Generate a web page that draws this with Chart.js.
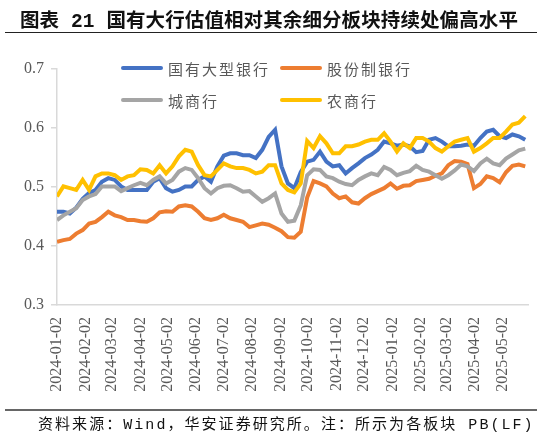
<!DOCTYPE html>
<html>
<head>
<meta charset="utf-8">
<script src="https://cdn.jsdelivr.net/npm/chart.js@4/dist/chart.umd.min.js"></script>
<style>
  body { margin: 0; width: 542px; height: 437px; position: relative; background: #fff; overflow: hidden; }
  #box { position: absolute; left: 0; top: 0; width: 542px; height: 437px; }
  #title { position: absolute; left: 20px; top: 4px; font-size: 19.5px; font-weight: bold; color: #111;
           font-family: "Liberation Mono", "Noto Sans CJK SC", sans-serif; white-space: nowrap; letter-spacing: 0.1px; }
  #topline { position: absolute; left: 5px; top: 32px; width: 532px; border-top: 1.5px solid #222; }
  #botline { position: absolute; left: 5px; top: 409px; width: 532px; border-top: 2px solid #666; }
  #note { position: absolute; left: 38px; top: 412px; font-size: 15px; color: #111;
          font-family: "Liberation Mono", "Noto Sans CJK SC", sans-serif; white-space: nowrap; letter-spacing: 2.05px; }
  .leg { position: absolute; height: 20px; display: flex; align-items: center; font-size: 15px; color: #595959;
         font-family: "Noto Sans CJK SC", sans-serif; letter-spacing: 2px; white-space: nowrap; }
  .leg i { display: inline-block; width: 42px; height: 4px; border-radius: 2px; margin-right: 5px; }
</style>
</head>
<body>
<div id="box"><canvas id="myChart" width="542" height="437"></canvas></div>
<div id="title">图表 21 国有大行估值相对其余细分板块持续处偏高水平</div>
<div id="topline"></div>
<div id="legend"></div>
<div id="botline"></div>
<div id="note">资料来源：Wind，华安证券研究所。注：所示为各板块 PB(LF)</div>
<script>
// axis tick labels (monthly)
const tickLabels = ['2024-01-02', '2024-02-02', '2024-03-02', '2024-04-02', '2024-05-02', '2024-06-02',
  '2024-07-02', '2024-08-02', '2024-09-02', '2024-10-02', '2024-11-02', '2024-12-02',
  '2025-01-02', '2025-02-02', '2025-03-02', '2025-04-02', '2025-05-02'];

// weekly samples
const dates = [
  '2024-01-02', '2024-01-09', '2024-01-16', '2024-01-23', '2024-01-30',
  '2024-02-06', '2024-02-13', '2024-02-20', '2024-02-27',
  '2024-03-05', '2024-03-12', '2024-03-19', '2024-03-26',
  '2024-04-02', '2024-04-09', '2024-04-16', '2024-04-23', '2024-04-30',
  '2024-05-07', '2024-05-14', '2024-05-21', '2024-05-28',
  '2024-06-04', '2024-06-11', '2024-06-18', '2024-06-25',
  '2024-07-02', '2024-07-09', '2024-07-16', '2024-07-23', '2024-07-30',
  '2024-08-06', '2024-08-13', '2024-08-20', '2024-08-27',
  '2024-09-03', '2024-09-10', '2024-09-17', '2024-09-24',
  '2024-10-01', '2024-10-08', '2024-10-15', '2024-10-22', '2024-10-29',
  '2024-11-05', '2024-11-12', '2024-11-19', '2024-11-26',
  '2024-12-03', '2024-12-10', '2024-12-17', '2024-12-24', '2024-12-31',
  '2025-01-07', '2025-01-14', '2025-01-21', '2025-01-28',
  '2025-02-04', '2025-02-11', '2025-02-18', '2025-02-25',
  '2025-03-04', '2025-03-11', '2025-03-18', '2025-03-25',
  '2025-04-01', '2025-04-08', '2025-04-15', '2025-04-22', '2025-04-29',
  '2025-05-06', '2025-05-13', '2025-05-20', '2025-05-27'];

const bigBanks = [0.458, 0.458, 0.455, 0.465, 0.480, 0.490, 0.495, 0.509, 0.515, 0.512, 0.501, 0.495, 0.495,
  0.495, 0.495, 0.509, 0.515, 0.498, 0.492, 0.495, 0.501, 0.501, 0.512, 0.518, 0.509, 0.535,
  0.553, 0.557, 0.557, 0.554, 0.554, 0.549, 0.563, 0.585, 0.597, 0.535, 0.506, 0.498, 0.525,
  0.543, 0.546, 0.560, 0.543, 0.535, 0.537, 0.523, 0.532, 0.540, 0.549, 0.555, 0.563, 0.577, 0.574,
  0.570, 0.572, 0.569, 0.559, 0.561, 0.580, 0.583, 0.577, 0.569, 0.569, 0.570, 0.572,
  0.570, 0.583, 0.594, 0.597, 0.586, 0.583, 0.589, 0.586, 0.580];

const jointStock = [0.407, 0.410, 0.412, 0.421, 0.427, 0.438, 0.441, 0.449, 0.458, 0.452, 0.449, 0.444, 0.444,
  0.442, 0.441, 0.447, 0.457, 0.459, 0.458, 0.467, 0.469, 0.467, 0.458, 0.447, 0.444, 0.447,
  0.453, 0.447, 0.444, 0.441, 0.432, 0.435, 0.438, 0.436, 0.431, 0.425, 0.415, 0.414, 0.424,
  0.482, 0.510, 0.506, 0.501, 0.489, 0.481, 0.484, 0.474, 0.472, 0.481, 0.488, 0.493, 0.498, 0.506,
  0.497, 0.502, 0.503, 0.510, 0.512, 0.514, 0.519, 0.523, 0.537, 0.544, 0.543, 0.539,
  0.498, 0.505, 0.518, 0.515, 0.508, 0.525, 0.536, 0.538, 0.535];

const cityBanks = [0.444, 0.452, 0.458, 0.464, 0.478, 0.484, 0.488, 0.501, 0.501, 0.501, 0.493, 0.498, 0.503,
  0.507, 0.503, 0.512, 0.518, 0.506, 0.512, 0.526, 0.532, 0.529, 0.515, 0.498, 0.489, 0.498,
  0.502, 0.503, 0.498, 0.492, 0.493, 0.484, 0.475, 0.481, 0.489, 0.455, 0.441, 0.443, 0.469,
  0.520, 0.530, 0.529, 0.518, 0.515, 0.509, 0.505, 0.503, 0.512, 0.518, 0.523, 0.520, 0.534, 0.529,
  0.520, 0.524, 0.527, 0.536, 0.529, 0.526, 0.520, 0.514, 0.520, 0.528, 0.538, 0.535,
  0.527, 0.540, 0.548, 0.540, 0.537, 0.548, 0.555, 0.562, 0.565];

const ruralBanks = [0.484, 0.501, 0.498, 0.495, 0.512, 0.495, 0.518, 0.523, 0.523, 0.520, 0.512, 0.518, 0.520,
  0.530, 0.529, 0.523, 0.537, 0.523, 0.535, 0.552, 0.563, 0.560, 0.537, 0.520, 0.518, 0.529,
  0.540, 0.535, 0.532, 0.532, 0.529, 0.523, 0.526, 0.537, 0.537, 0.506, 0.495, 0.491, 0.506,
  0.578, 0.566, 0.586, 0.574, 0.557, 0.557, 0.569, 0.569, 0.572, 0.577, 0.580, 0.580, 0.591, 0.577,
  0.560, 0.574, 0.566, 0.583, 0.583, 0.577, 0.566, 0.560, 0.569, 0.577, 0.580, 0.583,
  0.560, 0.566, 0.574, 0.583, 0.583, 0.594, 0.606, 0.609, 0.620];

const seriesNames = ['国有大型银行', '股份制银行', '城商行', '农商行'];
const seriesColors = ['#4472C4', '#ED7D31', '#A5A5A5', '#FFC000'];
const seriesValues = [bigBanks, jointStock, cityBanks, ruralBanks];

const t0 = Date.parse('2024-01-02');
const dayOf = s => (Date.parse(s) - t0) / 86400000;

const xy = '#595959';
const gridc = '#d9d9d9';
const numFont = { family: 'Liberation Serif', size: 16 };

// legend, two columns
const legendPos = [[121, 58], [280, 58], [121, 90], [280, 90]];
const legend = document.getElementById('legend');
seriesNames.forEach((name, i) => {
  const d = document.createElement('div');
  d.className = 'leg';
  d.style.left = legendPos[i][0] + 'px';
  d.style.top = legendPos[i][1] + 'px';
  d.innerHTML = '<i style="background:' + seriesColors[i] + '"></i>' + name;
  legend.appendChild(d);
});

const ctx = document.getElementById('myChart');
new Chart(ctx, {
  type: 'line',
  data: {
    datasets: seriesNames.map((name, i) => ({
      label: name,
      data: dates.map((d, j) => ({ x: dayOf(d), y: seriesValues[i][j] })),
      borderColor: seriesColors[i],
      backgroundColor: seriesColors[i],
      borderWidth: 4,
      pointRadius: 0,
      tension: 0,
      order: 4 - i
    }))
  },
  options: {
    responsive: false,
    animation: false,
    layout: { padding: { top: 69, right: 14, left: 0, bottom: 0 } },
    scales: {
      x: {
        type: 'linear',
        min: 0,
        max: 514,
        afterFit: s => { s.height = 132; },
        afterBuildTicks: s => { s.ticks = tickLabels.map(l => ({ value: dayOf(l) })); },
        grid: { display: false },
        border: { display: true, color: gridc, width: 1.5 },
        ticks: {
          autoSkip: false,
          minRotation: 90,
          maxRotation: 90,
          padding: 4,
          color: xy,
          font: numFont,
          callback: function (value, index) {
            return tickLabels[index];
          }
        }
      },
      y: {
        min: 0.3,
        max: 0.7,
        afterFit: s => { s.width = 57; },
        grid: { drawOnChartArea: false, color: gridc, tickLength: 6, lineWidth: 1.5 },
        border: { display: true, color: gridc, width: 1.5 },
        ticks: {
          stepSize: 0.1,
          padding: 7,
          color: xy,
          font: numFont,
          callback: v => v.toFixed(1)
        }
      }
    },
    plugins: {
      legend: { display: false },
      tooltip: { enabled: false }
    }
  }
});
</script>
</body>
</html>
